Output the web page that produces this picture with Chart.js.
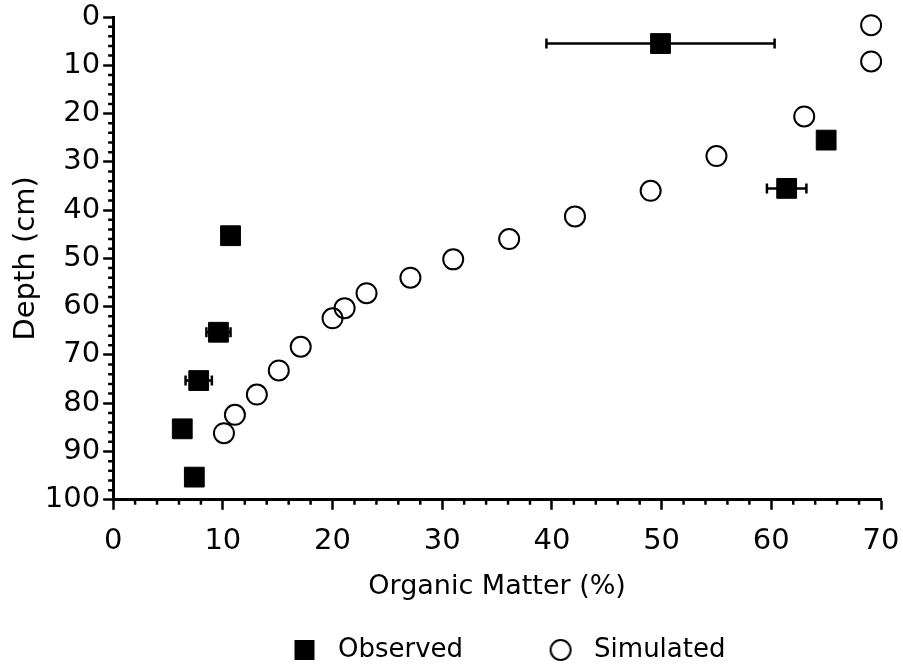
<!DOCTYPE html>
<html>
<head>
<meta charset="utf-8">
<title>Organic matter vs depth</title>
<script src="https://cdn.jsdelivr.net/npm/chart.js@4.4.1/dist/chart.umd.min.js"></script>
<style>
  html, body { margin: 0; padding: 0; background: #fff; }
  canvas { display: block; }
</style>
</head>
<body>
<canvas id="chart" width="903" height="669"></canvas>
<script>
// ---- data ----
const obsOM    = [49.9, 65.0, 61.4, 10.7, 9.6, 7.8, 6.3, 7.4];
const obsDepth = [5.5, 25.5, 35.5, 45.3, 65.3, 75.3, 85.3, 95.3];
const obsErr   = [10.4, 0, 1.8, 0, 1.1, 1.2, 0, 0];   // +/- on organic matter

const simOM    = [69.1, 69.1, 63.0, 55.0, 49.0, 42.1, 36.1, 31.0, 27.1, 23.1, 21.1, 20.0, 17.1, 15.1, 13.1, 11.1, 10.1];
const simDepth = [1.7, 9.2, 20.6, 28.8, 36.0, 41.3, 46.0, 50.2, 54.0, 57.2, 60.3, 62.4, 68.3, 73.2, 78.2, 82.4, 86.2];

const seriesLabels = ['Observed', 'Simulated'];
const xTicks = [0, 10, 20, 30, 40, 50, 60, 70];
const yTicks = [0, 10, 20, 30, 40, 50, 60, 70, 80, 90, 100];
const MINOR_STEP = 2;

const FONT = 'DejaVu Sans';

// legend icons
function makeIcon(kind) {
  const c = document.createElement('canvas');
  c.width = 24; c.height = 24;
  const g = c.getContext('2d');
  if (kind === 'square') {
    g.fillStyle = '#000';
    g.fillRect(2, 2, 20, 20);
  } else {
    g.strokeStyle = '#000';
    g.lineWidth = 2;
    g.beginPath();
    g.arc(12, 12, 10, 0, Math.PI * 2);
    g.stroke();
  }
  return c;
}
const legendIcons = [makeIcon('square'), makeIcon('circle')];

// horizontal error bars on the observed series
const errorBars = {
  id: 'errorBars',
  beforeDatasetsDraw(chart) {
    const { ctx, scales: { x, y } } = chart;
    ctx.save();
    ctx.strokeStyle = '#000';
    ctx.lineWidth = 2.5;
    obsOM.forEach((v, i) => {
      const e = obsErr[i];
      if (!e) return;
      const py = y.getPixelForValue(obsDepth[i]);
      const x0 = x.getPixelForValue(v - e);
      const x1 = x.getPixelForValue(v + e);
      ctx.beginPath();
      ctx.moveTo(x0, py); ctx.lineTo(x1, py);
      ctx.moveTo(x0, py - 5); ctx.lineTo(x0, py + 5);
      ctx.moveTo(x1, py - 5); ctx.lineTo(x1, py + 5);
      ctx.stroke();
    });
    ctx.restore();
  }
};

// short minor ticks between the labelled ones
const minorTicks = {
  id: 'minorTicks',
  afterDraw(chart) {
    const { ctx, scales: { x, y }, chartArea } = chart;
    ctx.save();
    ctx.strokeStyle = '#000';
    ctx.lineWidth = 2.5;
    ctx.beginPath();
    for (let v = x.min; v <= x.max; v += MINOR_STEP) {
      if (v % 10 === 0) continue;
      const px = x.getPixelForValue(v);
      ctx.moveTo(px, chartArea.bottom);
      ctx.lineTo(px, chartArea.bottom + 5);
    }
    for (let v = y.min; v <= y.max; v += MINOR_STEP) {
      if (v % 10 === 0) continue;
      const py = y.getPixelForValue(v);
      ctx.moveTo(chartArea.left, py);
      ctx.lineTo(chartArea.left - 5, py);
    }
    ctx.stroke();
    ctx.restore();
  }
};

// the legend sits lower and further right than Chart.js would put it
const legendPlace = {
  id: 'legendPlace',
  afterLayout(chart) {
    const lg = chart.legend;
    lg.left = 207;
    lg.right = chart.width;
    lg.top = 560;
    lg.bottom = chart.height;
    lg.width = lg.right - lg.left;
    lg.height = lg.bottom - lg.top;
  }
};

new Chart(document.getElementById('chart'), {
  type: 'scatter',
  data: {
    datasets: [
      {
        label: seriesLabels[0],
        data: obsOM.map((v, i) => ({ x: v, y: obsDepth[i] })),
        pointStyle: 'rect',
        pointRadius: 14,
        backgroundColor: '#000',
        borderColor: '#000',
        borderWidth: 1,
        clip: false,
      },
      {
        label: seriesLabels[1],
        data: simOM.map((v, i) => ({ x: v, y: simDepth[i] })),
        pointStyle: 'circle',
        pointRadius: 10,
        backgroundColor: 'rgba(0,0,0,0)',
        borderColor: '#000',
        borderWidth: 2,
        clip: false,
      },
    ],
  },
  options: {
    responsive: false,
    animation: false,
    devicePixelRatio: 1,
    layout: { padding: { left: 5, right: 0, top: 0, bottom: 65 } },
    scales: {
      x: {
        type: 'linear',
        min: 0,
        max: 70,
        afterBuildTicks: s => { s.ticks = xTicks.map(v => ({ value: v })); },
        afterFit: s => { s.paddingRight = 22; },
        border: { display: true, color: '#000', width: 3 },
        grid: { drawOnChartArea: false, drawTicks: true, tickLength: 10, tickWidth: 2.5, tickColor: '#000' },
        ticks: { color: '#000', padding: 14, maxRotation: 0, font: { family: FONT, size: 29 } },
        title: {
          display: true,
          text: 'Organic Matter (%)',
          color: '#000',
          font: { family: FONT, size: 27 },
          padding: { top: -2, bottom: 0 },
        },
      },
      y: {
        type: 'linear',
        reverse: true,
        min: 0,
        max: 100,
        afterBuildTicks: s => { s.ticks = yTicks.map(v => ({ value: v })); },
        afterFit: s => { s.paddingTop = 17; },
        border: { display: true, color: '#000', width: 3 },
        grid: { drawOnChartArea: false, drawTicks: true, tickLength: 10, tickWidth: 2.5, tickColor: '#000' },
        ticks: { color: '#000', padding: 3, font: { family: FONT, size: 29 } },
        title: {
          display: true,
          text: 'Depth (cm)',
          color: '#000',
          font: { family: FONT, size: 29 },
          padding: { top: 4, bottom: -2 },
        },
      },
    },
    plugins: {
      tooltip: { enabled: false },
      legend: {
        position: 'bottom',
        align: 'start',
        maxHeight: 1,
        labels: {
          usePointStyle: true,
          pointStyleWidth: 41,
          padding: 77,
          color: '#000',
          font: { family: FONT, size: 26 },
          generateLabels: chart => chart.data.datasets.map((ds, i) => ({
            text: ds.label,
            pointStyle: legendIcons[i],
            datasetIndex: i,
            hidden: false,
            lineWidth: 0,
            fontColor: '#000',
          })),
        },
      },
    },
  },
  plugins: [errorBars, minorTicks, legendPlace],
});
</script>
</body>
</html>
